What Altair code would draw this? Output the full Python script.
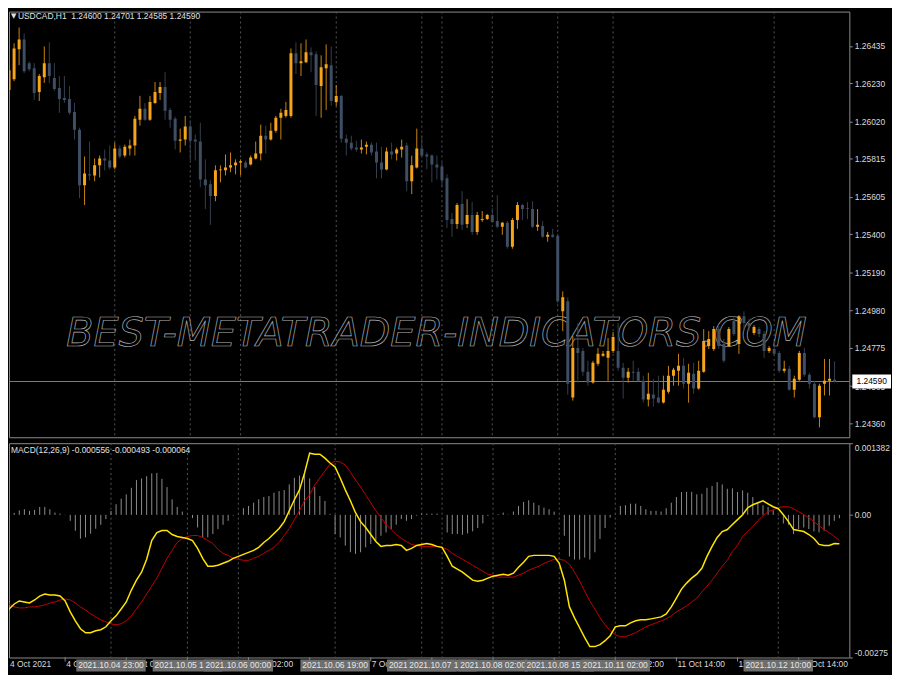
import altair as alt
import pandas as pd

# ---------------- data (hourly USDCAD bars, index 0 = 2021.10.04 02:00) ----------------
bar_open = [1.26192, 1.26252, 1.26416, 1.26470, 1.26340, 1.26312, 1.26181, 1.26263, 1.26340, 1.26258,
            1.26203, 1.26149, 1.26143, 1.26072, 1.25974, 1.25669, 1.25729, 1.25723, 1.25778, 1.25816,
            1.25805, 1.25767, 1.25871, 1.25832, 1.25871, 1.25887, 1.26029, 1.26089, 1.26029, 1.26121,
            1.26176, 1.26209, 1.26083, 1.26034, 1.25914, 1.25920, 1.25991, 1.25920, 1.25909, 1.25701,
            1.25674, 1.25609, 1.25751, 1.25751, 1.25767, 1.25778, 1.25794, 1.25794, 1.25783, 1.25816,
            1.25843, 1.25941, 1.25920, 1.25969, 1.26040, 1.26050, 1.26050, 1.26394, 1.26340, 1.26345,
            1.26400, 1.26389, 1.26214, 1.26312, 1.26329, 1.26127, 1.26160, 1.25925, 1.25903, 1.25876,
            1.25865, 1.25881, 1.25892, 1.25854, 1.25794, 1.25756, 1.25854, 1.25843, 1.25865, 1.25887,
            1.25691, 1.25767, 1.25871, 1.25838, 1.25832, 1.25783, 1.25772, 1.25707, 1.25483, 1.25456,
            1.25565, 1.25456, 1.25505, 1.25412, 1.25478, 1.25483, 1.25505, 1.25472, 1.25440, 1.25462,
            1.25331, 1.25478, 1.25560, 1.25543, 1.25538, 1.25440, 1.25445, 1.25385, 1.25396, 1.25391,
            1.24976, 1.25031, 1.24502, 1.24774, 1.24758, 1.24644, 1.24584, 1.24687, 1.24731, 1.24720,
            1.24758, 1.24758, 1.24665, 1.24611, 1.24644, 1.24644, 1.24594, 1.24491, 1.24518, 1.24502,
            1.24474, 1.24534, 1.24622, 1.24649, 1.24676, 1.24578, 1.24633, 1.24551, 1.24644, 1.24785,
            1.24769, 1.24878, 1.24796, 1.24785, 1.24922, 1.24796, 1.24949, 1.24911, 1.24856, 1.24878,
            1.24851, 1.24758, 1.24769, 1.24747, 1.24649, 1.24660, 1.24545, 1.24600, 1.24747, 1.24627,
            1.24578, 1.24393, 1.24578, 1.24594, 1.24600]
bar_high = [1.26329, 1.26449, 1.26536, 1.26503, 1.26350, 1.26340, 1.26280, 1.26432, 1.26454, 1.26340,
            1.26269, 1.26269, 1.26214, 1.26121, 1.25985, 1.25827, 1.25909, 1.25816, 1.25832, 1.25865,
            1.25887, 1.25903, 1.25887, 1.25892, 1.25920, 1.26050, 1.26160, 1.26121, 1.26160, 1.26236,
            1.26236, 1.26290, 1.26094, 1.26045, 1.25980, 1.26050, 1.26023, 1.25947, 1.26012, 1.25811,
            1.25696, 1.25778, 1.25778, 1.25838, 1.25849, 1.25811, 1.25811, 1.25805, 1.25832, 1.25909,
            1.26002, 1.25996, 1.26012, 1.26050, 1.26089, 1.26127, 1.26421, 1.26454, 1.26449, 1.26470,
            1.26427, 1.26405, 1.26383, 1.26443, 1.26432, 1.26220, 1.26165, 1.25947, 1.25941, 1.25914,
            1.25920, 1.25909, 1.25903, 1.25903, 1.25881, 1.25876, 1.25903, 1.25876, 1.25920, 1.25903,
            1.25832, 1.25980, 1.25941, 1.25849, 1.25838, 1.25832, 1.25794, 1.25729, 1.25516, 1.25571,
            1.25636, 1.25592, 1.25576, 1.25522, 1.25527, 1.25511, 1.25543, 1.25614, 1.25467, 1.25472,
            1.25489, 1.25576, 1.25565, 1.25576, 1.25581, 1.25538, 1.25472, 1.25412, 1.25429, 1.25402,
            1.25085, 1.25053, 1.24840, 1.24911, 1.24774, 1.24704, 1.24704, 1.24774, 1.24758, 1.24829,
            1.24862, 1.24911, 1.24693, 1.24665, 1.24704, 1.24665, 1.24622, 1.24638, 1.24605, 1.24622,
            1.24622, 1.24676, 1.24665, 1.24742, 1.24720, 1.24687, 1.24693, 1.24704, 1.24878, 1.24867,
            1.24894, 1.24894, 1.24824, 1.24889, 1.24949, 1.24954, 1.24976, 1.24933, 1.24900, 1.24889,
            1.24867, 1.24785, 1.24813, 1.24758, 1.24704, 1.24676, 1.24622, 1.24758, 1.24774, 1.24638,
            1.24594, 1.24578, 1.24714, 1.24714, 1.24701]
bar_low = [1.26176, 1.26241, 1.26329, 1.26285, 1.26296, 1.26138, 1.26132, 1.26231, 1.26231, 1.26187,
           1.26067, 1.26121, 1.26056, 1.25920, 1.25598, 1.25560, 1.25696, 1.25691, 1.25712, 1.25751,
           1.25756, 1.25756, 1.25816, 1.25821, 1.25832, 1.25832, 1.25996, 1.26023, 1.26023, 1.26116,
           1.26138, 1.26029, 1.25985, 1.25865, 1.25849, 1.25887, 1.25805, 1.25805, 1.25658, 1.25538,
           1.25451, 1.25581, 1.25685, 1.25723, 1.25740, 1.25729, 1.25723, 1.25761, 1.25778, 1.25811,
           1.25805, 1.25843, 1.25914, 1.25958, 1.25920, 1.26040, 1.26040, 1.26280, 1.26269, 1.26340,
           1.26290, 1.26050, 1.26040, 1.26083, 1.26105, 1.26105, 1.25903, 1.25832, 1.25860, 1.25854,
           1.25843, 1.25838, 1.25832, 1.25707, 1.25707, 1.25751, 1.25811, 1.25805, 1.25821, 1.25636,
           1.25620, 1.25761, 1.25821, 1.25756, 1.25685, 1.25701, 1.25658, 1.25434, 1.25385, 1.25429,
           1.25423, 1.25434, 1.25396, 1.25396, 1.25467, 1.25478, 1.25462, 1.25434, 1.25396, 1.25320,
           1.25320, 1.25429, 1.25478, 1.25483, 1.25434, 1.25418, 1.25380, 1.25358, 1.25380, 1.25020,
           1.24867, 1.24518, 1.24485, 1.24584, 1.24622, 1.24567, 1.24578, 1.24676, 1.24725, 1.24594,
           1.24747, 1.24649, 1.24496, 1.24584, 1.24594, 1.24589, 1.24474, 1.24453, 1.24453, 1.24469,
           1.24469, 1.24523, 1.24567, 1.24567, 1.24551, 1.24474, 1.24523, 1.24545, 1.24638, 1.24769,
           1.24758, 1.24769, 1.24693, 1.24780, 1.24840, 1.24742, 1.24867, 1.24867, 1.24845, 1.24834,
           1.24720, 1.24747, 1.24731, 1.24638, 1.24638, 1.24540, 1.24502, 1.24594, 1.24616, 1.24551,
           1.24387, 1.24338, 1.24513, 1.24513, 1.24585]
bar_close = [1.26301, 1.26421, 1.26470, 1.26296, 1.26307, 1.26176, 1.26269, 1.26340, 1.26269, 1.26198,
             1.26143, 1.26138, 1.26067, 1.25974, 1.25669, 1.25734, 1.25723, 1.25778, 1.25816, 1.25805,
             1.25767, 1.25871, 1.25827, 1.25881, 1.25887, 1.26034, 1.26089, 1.26029, 1.26127, 1.26181,
             1.26209, 1.26078, 1.26029, 1.25914, 1.25920, 1.25991, 1.25914, 1.25909, 1.25701, 1.25669,
             1.25609, 1.25751, 1.25756, 1.25767, 1.25778, 1.25794, 1.25800, 1.25767, 1.25821, 1.25843,
             1.25941, 1.25920, 1.25969, 1.26040, 1.26067, 1.26083, 1.26394, 1.26340, 1.26350, 1.26400,
             1.26383, 1.26220, 1.26318, 1.26334, 1.26132, 1.26160, 1.25925, 1.25903, 1.25871, 1.25865,
             1.25876, 1.25892, 1.25849, 1.25794, 1.25756, 1.25854, 1.25838, 1.25865, 1.25881, 1.25691,
             1.25778, 1.25871, 1.25832, 1.25827, 1.25783, 1.25767, 1.25696, 1.25478, 1.25456, 1.25560,
             1.25451, 1.25505, 1.25412, 1.25505, 1.25483, 1.25505, 1.25467, 1.25440, 1.25462, 1.25331,
             1.25478, 1.25560, 1.25538, 1.25538, 1.25440, 1.25451, 1.25385, 1.25396, 1.25385, 1.25031,
             1.25053, 1.24578, 1.24774, 1.24747, 1.24644, 1.24584, 1.24693, 1.24742, 1.24742, 1.24758,
             1.24834, 1.24665, 1.24611, 1.24644, 1.24638, 1.24594, 1.24491, 1.24523, 1.24496, 1.24474,
             1.24545, 1.24622, 1.24654, 1.24676, 1.24578, 1.24638, 1.24551, 1.24649, 1.24813, 1.24824,
             1.24878, 1.24785, 1.24704, 1.24878, 1.24851, 1.24949, 1.24911, 1.24894, 1.24889, 1.24851,
             1.24758, 1.24774, 1.24742, 1.24649, 1.24660, 1.24545, 1.24605, 1.24747, 1.24627, 1.24578,
             1.24393, 1.24567, 1.24594, 1.24605, 1.24590]

macd_main = [-0.001947, -0.001814, -0.001718, -0.001660, -0.001680, -0.001699, -0.001641, -0.001565, -0.001527, -0.001546,
             -0.001546, -0.001565, -0.001660, -0.001871, -0.002043, -0.002196, -0.002273, -0.002273, -0.002234, -0.002215,
             -0.002158, -0.002043, -0.001947, -0.001814, -0.001680, -0.001450, -0.001259, -0.001106, -0.000857, -0.000494,
             -0.000341, -0.000302, -0.000302, -0.000379, -0.000417, -0.000436, -0.000455, -0.000494, -0.000647, -0.000838,
             -0.000991, -0.000991, -0.000972, -0.000934, -0.000895, -0.000838, -0.000800, -0.000761, -0.000723, -0.000685,
             -0.000627, -0.000532, -0.000455, -0.000360, -0.000264, -0.000130, 0.000080, 0.000291, 0.000482, 0.000807,
             0.001190, 0.001171, 0.001171, 0.001094, 0.000999, 0.000922, 0.000712, 0.000482, 0.000272, 0.000042,
             -0.000130, -0.000245, -0.000379, -0.000513, -0.000608, -0.000589, -0.000589, -0.000570, -0.000589, -0.000685,
             -0.000647, -0.000589, -0.000570, -0.000551, -0.000570, -0.000608, -0.000627, -0.000800, -0.000991, -0.001048,
             -0.001106, -0.001182, -0.001259, -0.001278, -0.001259, -0.001220, -0.001182, -0.001163, -0.001144, -0.001163,
             -0.001125, -0.001010, -0.000914, -0.000800, -0.000781, -0.000781, -0.000781, -0.000781, -0.000800, -0.000934,
             -0.001259, -0.001775, -0.001986, -0.002177, -0.002368, -0.002540, -0.002540, -0.002502, -0.002426, -0.002330,
             -0.002158, -0.002139, -0.002139, -0.002081, -0.002043, -0.002024, -0.002024, -0.002005, -0.001986, -0.001967,
             -0.001909, -0.001775, -0.001603, -0.001431, -0.001316, -0.001220, -0.001144, -0.001029, -0.000800, -0.000608,
             -0.000436, -0.000321, -0.000283, -0.000187, -0.000092, 0.000004, 0.000138, 0.000195, 0.000233, 0.000272,
             0.000214, 0.000157, 0.000119, 0.000004, -0.000130, -0.000283, -0.000302, -0.000321, -0.000379, -0.000455,
             -0.000570, -0.000589, -0.000589, -0.000551, -0.000556]
macd_signal = [-0.001622, -0.001718, -0.001775, -0.001794, -0.001794, -0.001775, -0.001775, -0.001756, -0.001737, -0.001699,
               -0.001680, -0.001641, -0.001622, -0.001641, -0.001699, -0.001775, -0.001833, -0.001909, -0.001967, -0.002024,
               -0.002062, -0.002100, -0.002120, -0.002100, -0.002043, -0.001947, -0.001814, -0.001680, -0.001527, -0.001374,
               -0.001220, -0.001029, -0.000838, -0.000685, -0.000532, -0.000455, -0.000417, -0.000398, -0.000398, -0.000436,
               -0.000494, -0.000551, -0.000666, -0.000742, -0.000781, -0.000838, -0.000857, -0.000876, -0.000876, -0.000838,
               -0.000800, -0.000742, -0.000685, -0.000627, -0.000532, -0.000398, -0.000264, -0.000092, 0.000080, 0.000272,
               0.000386, 0.000578, 0.000712, 0.000846, 0.000979, 0.001037, 0.001018, 0.000960, 0.000826, 0.000673,
               0.000539, 0.000386, 0.000233, 0.000080, -0.000054, -0.000187, -0.000283, -0.000379, -0.000455, -0.000513,
               -0.000570, -0.000589, -0.000608, -0.000608, -0.000608, -0.000608, -0.000627, -0.000666, -0.000742, -0.000800,
               -0.000857, -0.000914, -0.000972, -0.001029, -0.001087, -0.001144, -0.001163, -0.001201, -0.001201, -0.001201,
               -0.001201, -0.001163, -0.001125, -0.001067, -0.001029, -0.000991, -0.000934, -0.000895, -0.000857, -0.000857,
               -0.000876, -0.000953, -0.001106, -0.001278, -0.001469, -0.001660, -0.001814, -0.001986, -0.002120, -0.002234,
               -0.002311, -0.002349, -0.002349, -0.002311, -0.002273, -0.002215, -0.002158, -0.002120, -0.002081, -0.002043,
               -0.002005, -0.001947, -0.001871, -0.001814, -0.001756, -0.001680, -0.001603, -0.001488, -0.001374, -0.001259,
               -0.001125, -0.000991, -0.000876, -0.000704, -0.000589, -0.000417, -0.000321, -0.000226, -0.000111, -0.000015,
               0.000061, 0.000099, 0.000138, 0.000157, 0.000157, 0.000119, 0.000061, 0.000004, -0.000054, -0.000130,
               -0.000207, -0.000283, -0.000341, -0.000417, -0.000493]
macd_hist = [-0.000057, -0.000134, 0.000038, 0.000086, 0.000109, 0.000077, 0.000096, 0.000153, 0.000153, 0.000109,
             0.000044, 0.000025, -0.000005, -0.000115, -0.000306, -0.000459, -0.000434, -0.000363, -0.000268, -0.000191,
             -0.000082, 0.000077, 0.000205, 0.000312, 0.000396, 0.000522, 0.000670, 0.000702, 0.000746, 0.000798,
             0.000809, 0.000694, 0.000536, 0.000300, 0.000153, 0.000063, 0.000008, -0.000063, -0.000243, -0.000434,
             -0.000434, -0.000369, -0.000274, -0.000191, -0.000115, -0.000013, 0.000006, 0.000128, 0.000172, 0.000235,
             0.000300, 0.000344, 0.000363, 0.000427, 0.000459, 0.000478, 0.000587, 0.000714, 0.000759, 0.000765,
             0.000702, 0.000536, 0.000363, 0.000268, 0.000019, -0.000369, -0.000434, -0.000593, -0.000721, -0.000752,
             -0.000721, -0.000626, -0.000561, -0.000497, -0.000402, -0.000339, -0.000274, -0.000191, -0.000082, -0.000115,
             -0.000082, -0.000013, 0.000025, 0.000025, 0.000025, 0.000025, 0.000002, -0.000339, -0.000369, -0.000369,
             -0.000383, -0.000358, -0.000319, -0.000254, -0.000166, -0.000019, 0.000000, 0.000013, 0.000044, 0.000006,
             0.000063, 0.000172, 0.000249, 0.000281, 0.000235, 0.000186, 0.000140, 0.000109, 0.000063, -0.000004,
             -0.000402, -0.000803, -0.000861, -0.000861, -0.000823, -0.000861, -0.000721, -0.000465, -0.000254, -0.000052,
             0.000006, 0.000172, 0.000186, 0.000216, 0.000216, 0.000172, 0.000109, 0.000077, 0.000077, 0.000063,
             0.000128, 0.000235, 0.000344, 0.000440, 0.000446, 0.000446, 0.000396, 0.000407, 0.000522, 0.000555,
             0.000631, 0.000587, 0.000503, 0.000511, 0.000440, 0.000473, 0.000427, 0.000344, 0.000235, 0.000186,
             0.000153, 0.000090, -0.000010, -0.000166, -0.000191, -0.000369, -0.000274, -0.000243, -0.000274, -0.000319,
             -0.000339, -0.000306, -0.000210, -0.000115, -0.000064]

price_ticks = [1.26435, 1.26230, 1.26020, 1.25815, 1.25605, 1.25400, 1.25190, 1.24980, 1.24775, 1.24565, 1.24360]
last_price = 1.24590
macd_ticks = [0.001382, 0.0, -0.00275]
macd_tick_labels = ["0.001382", "0.00", "-0.00275"]

time_tick_bars = [0, 12, 24, 36, 48, 60, 72, 84, 96, 108, 120, 132, 144, 156]
time_tick_labels = ["4 Oct 2021", "4 Oct 14:00", "5 Oct 02:00", "5 Oct 14:00", "6 Oct 02:00", "6 Oct 14:00",
                    "7 Oct 02:00", "7 Oct 14:00", "8 Oct 02:00", "8 Oct 14:00", "11 Oct 02:00", "11 Oct 14:00",
                    "12 Oct 02:00", "12 Oct 14:00"]

vline_bars = [21, 36, 46, 65, 82, 86, 96, 109, 120, 152]
vline_labels = ["2021.10.04 23:00", "2021.10.05 14:00", "2021.10.06 00:00", "2021.10.06 19:00",
                "2021.10.07 12:00", "2021.10.07 16:00", "2021.10.08 02:00", "2021.10.08 15:00",
                "2021.10.11 02:00", "2021.10.12 10:00"]

title_text = "USDCAD,H1\u00a0\u00a01.24600 1.24701 1.24585 1.24590"
macd_title = "MACD(12,26,9) -0.000556 -0.000493 -0.000064"
watermark = "BEST-METATRADER-INDICATORS.COM"

# ---------------- styling ----------------
BG = "black"
FONT = "Liberation Sans"
FS = 8.5
LBL = "#DADADA"
FRAME = "#8C8C8C"
UP_BODY, DN_BODY = "#F7A41D", "#3F4E63"
UP_WICK, DN_WICK = "#C8860F", "#34404F"

W = 847
H_TOP = 429
H_BOT = 216

X_DOM = [0.974, 165.95]
xs = alt.Scale(domain=X_DOM, nice=False, zero=False)
ys = alt.Scale(domain=[1.242836, 1.266232], nice=False, zero=False)
ms = alt.Scale(domain=[-0.00275, 0.001382], nice=False, zero=False)

n = len(bar_open)
bars = pd.DataFrame({
    "i": list(range(n)),
    "open": bar_open, "high": bar_high, "low": bar_low, "close": bar_close,
})
bars["dir"] = ["up" if c >= o else "down" for o, c in zip(bar_open, bar_close)]

ind = pd.DataFrame({"i": list(range(n)), "macd": macd_main, "sig": macd_signal, "hist": macd_hist})
vl = pd.DataFrame({"i": vline_bars, "lbl": vline_labels})
tt = pd.DataFrame({"i": time_tick_bars, "lbl": time_tick_labels,
                   "pos": [max(v, X_DOM[0]) for v in time_tick_bars]})

y_axis = alt.Axis(orient="right", values=price_ticks, format=".5f", labelColor=LBL, labelFont=FONT,
                  labelFontSize=FS, tickColor=FRAME, tickSize=3, labelPadding=2, domain=False,
                  grid=False, title=None, labelOverlap=False)

expr = "''"
for v, l in zip(reversed(macd_ticks), reversed(macd_tick_labels)):
    expr = f"abs(datum.value - ({v!r})) < 1e-9 ? '{l}' : ({expr})"
m_axis = alt.Axis(orient="right", values=macd_ticks, labelExpr=expr, labelColor=LBL, labelFont=FONT,
                  labelFontSize=FS, tickColor=FRAME, tickSize=3, labelPadding=2, domain=False,
                  grid=False, title=None, labelFlush=True, labelOverlap=False)

X = alt.X("i:Q", scale=xs, axis=None)

# ---------------- price panel ----------------
grid_top = alt.Chart(vl).mark_rule(color="#555555", strokeDash=[2, 3], strokeWidth=1).encode(x=X)

wm = alt.Chart(pd.DataFrame({"t": [watermark]})).mark_text(
    font="DejaVu Sans", fontSize=40, fontStyle="italic", fill="transparent", stroke="#B0B0B0",
    strokeWidth=0.7, align="center", baseline="middle"
).encode(x=alt.value(431), y=alt.value(325), text="t:N")

pline = alt.Chart(pd.DataFrame({"p": [last_price]})).mark_rule(color="#6E7F93", strokeWidth=1).encode(
    y=alt.Y("p:Q", scale=ys, axis=y_axis))

def wicks(d, col):
    return alt.Chart(bars).transform_filter(alt.datum.dir == d).mark_rule(
        color=col, strokeWidth=1, clip=True).encode(
        x=X, y=alt.Y("low:Q", scale=ys, axis=y_axis), y2="high:Q")

def bodies(d, col):
    return alt.Chart(bars).transform_filter(alt.datum.dir == d).mark_bar(
        color=col, width=3, clip=True).encode(
        x=X, y=alt.Y("open:Q", scale=ys, axis=y_axis), y2="close:Q")

title_tri = alt.Chart(pd.DataFrame({"t": ["\u25bc"]})).mark_text(
    color="#E0E0E0", font="DejaVu Sans", fontSize=7, align="left", baseline="middle"
).encode(x=alt.value(2), y=alt.value(4), text="t:N")
title = alt.Chart(pd.DataFrame({"t": [title_text]})).mark_text(
    color="#E0E0E0", font=FONT, fontSize=FS, align="left", baseline="middle"
).encode(x=alt.value(9), y=alt.value(4), text="t:N")

pbox = alt.Chart(pd.DataFrame({"p": [last_price]})).mark_tick(
    orient="horizontal", size=39, thickness=14, color="white", opacity=1
).encode(x=alt.value(869.5), y=alt.Y("p:Q", scale=ys, axis=y_axis))
ptxt = alt.Chart(pd.DataFrame({"p": [last_price], "t": [f"{last_price:.5f}"]})).mark_text(
    color="black", font=FONT, fontSize=FS, align="center", baseline="middle"
).encode(x=alt.value(869.5), y=alt.Y("p:Q", scale=ys, axis=y_axis), text="t:N")

top = alt.layer(grid_top, wm, pline,
                wicks("down", DN_WICK), wicks("up", UP_WICK),
                bodies("down", DN_BODY), bodies("up", UP_BODY),
                title_tri, title, pbox, ptxt).properties(width=W, height=H_TOP)

# ---------------- MACD panel ----------------
grid_bot = alt.Chart(vl).mark_rule(color="#555555", strokeDash=[2, 3], strokeWidth=1).encode(x=X)

hist = alt.Chart(ind).mark_rule(color="#8E8E8E", strokeWidth=1, clip=True).encode(
    x=X, y=alt.Y("hist:Q", scale=ms, axis=m_axis), y2=alt.datum(0))
sig = alt.Chart(ind).mark_line(color="#C40000", strokeWidth=1, clip=True).encode(
    x=X, y=alt.Y("sig:Q", scale=ms, axis=m_axis))
mline = alt.Chart(ind).mark_line(color="#FFE600", strokeWidth=1.5, clip=True).encode(
    x=X, y=alt.Y("macd:Q", scale=ms, axis=m_axis))
mtitle = alt.Chart(pd.DataFrame({"t": [macd_title]})).mark_text(
    color="#E0E0E0", font=FONT, fontSize=FS, align="left", baseline="middle"
).encode(x=alt.value(2), y=alt.value(7), text="t:N")

tticks = alt.Chart(tt).mark_rule(color=FRAME, strokeWidth=1, clip=False).transform_filter(
    alt.datum.i >= X_DOM[0]).encode(x=X, y=alt.value(H_BOT), y2=alt.value(H_BOT + 4))
tlabels = alt.Chart(tt).mark_text(color=LBL, font=FONT, fontSize=FS, align="left", baseline="middle", dx=1).encode(
    x=alt.X("pos:Q", scale=xs, axis=None), y=alt.value(H_BOT + 7), text="lbl:N")

box_layers = []
for b, l in zip(vline_bars, vline_labels):
    d = pd.DataFrame({"i": [b], "lbl": [l]})
    box_layers.append(alt.Chart(d).mark_tick(orient="horizontal", size=70, thickness=12,
                                             color="#6E6E6E", opacity=1).encode(
        x=X, y=alt.value(H_BOT + 8)))
    box_layers.append(alt.Chart(d).mark_text(color="#E8E8E8", font=FONT, fontSize=FS,
                                             align="center", baseline="middle").encode(
        x=X, y=alt.value(H_BOT + 8), text="lbl:N"))

bottom = alt.layer(grid_bot, hist, sig, mline, mtitle, tticks, tlabels, *box_layers).properties(
    width=W, height=H_BOT)

chart = alt.vconcat(top, bottom, spacing=4).properties(
    background=BG, padding=0
).configure_view(stroke=FRAME, strokeWidth=1)

chart.save("out.html", embed_options={"renderer": "svg", "actions": False})
